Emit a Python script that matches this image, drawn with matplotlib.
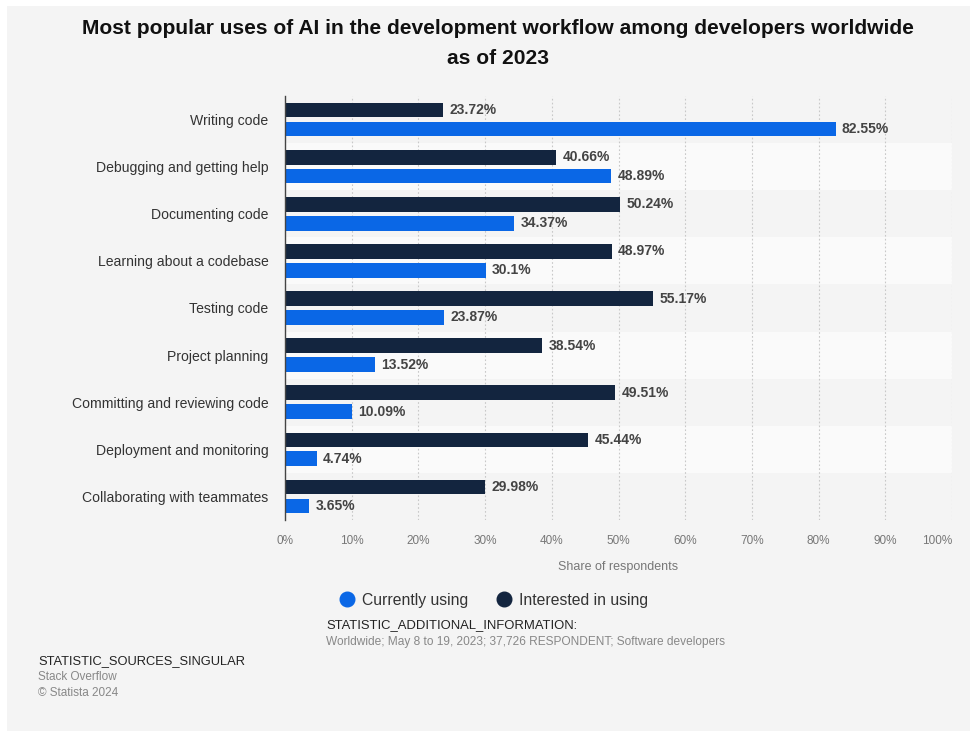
import matplotlib
matplotlib.use("Agg")
import matplotlib.pyplot as plt
from matplotlib.patches import Rectangle
from matplotlib.lines import Line2D

categories = ["Writing code", "Debugging and getting help", "Documenting code",
              "Learning about a codebase", "Testing code", "Project planning",
              "Committing and reviewing code", "Deployment and monitoring",
              "Collaborating with teammates"]
currently_using = [82.55, 48.89, 34.37, 30.1, 23.87, 13.52, 10.09, 4.74, 3.65]
interested_in_using = [23.72, 40.66, 50.24, 48.97, 55.17, 38.54, 49.51, 45.44, 29.98]
current_labels = ["82.55%", "48.89%", "34.37%", "30.1%", "23.87%", "13.52%", "10.09%", "4.74%", "3.65%"]
interested_labels = ["23.72%", "40.66%", "50.24%", "48.97%", "55.17%", "38.54%", "49.51%", "45.44%", "29.98%"]
xticks = [0, 10, 20, 30, 40, 50, 60, 70, 80, 90, 100]
xtick_labels = ["0%", "10%", "20%", "30%", "40%", "50%", "60%", "70%", "80%", "90%", "100%"]

BLUE = "#0a67e6"
NAVY = "#13253f"
BG = "#f4f4f4"

plt.rcParams['font.family'] = ['Liberation Sans', 'DejaVu Sans']

W, H = 979, 731
fig = plt.figure(figsize=(W / 100, H / 100), dpi=100)
fig.patch.set_facecolor("white")
fig.add_artist(Rectangle((7 / W, 0), (970 - 7) / W, 1 - 6 / H, transform=fig.transFigure,
                         facecolor=BG, edgecolor="none", zorder=-10))

left, right = 285 / W, 952 / W
bottom, top = 1 - 520 / H, 1 - 96 / H
ax = fig.add_axes([left, bottom, right - left, top - bottom])
ax.set_facecolor("none")

n = len(categories)
ax.set_xlim(0, 100)
ax.set_ylim(n - 0.5, -0.5)

for i in range(n):
    if i % 2 == 1:
        ax.axhspan(i - 0.5, i + 0.5, xmin=0, xmax=1, facecolor="#fafafa", edgecolor="none", zorder=0)

for x in xticks[1:]:
    ax.axvline(x, color="#c8c8c8", linestyle=(0, (1.5, 2)), linewidth=0.8, zorder=1)

bh = 0.31
off = 0.2
ys = list(range(n))
ax.barh([y - off for y in ys], interested_in_using, height=bh, color=NAVY, zorder=3)
ax.barh([y + off for y in ys], currently_using, height=bh, color=BLUE, zorder=3)

for y, v, t in zip(ys, interested_in_using, interested_labels):
    ax.annotate(t, (v, y - off), xytext=(4.5, 0), textcoords="offset points",
                ha="left", va="center", fontsize=10, fontweight="bold", color="#444444", zorder=4)
for y, v, t in zip(ys, currently_using, current_labels):
    ax.annotate(t, (v, y + off), xytext=(4.5, 0), textcoords="offset points",
                ha="left", va="center", fontsize=10, fontweight="bold", color="#444444", zorder=4)

ax.set_yticks(ys)
ax.set_yticklabels(categories, fontsize=10.1, color="#333333")
ax.tick_params(axis="y", length=0, pad=12)
ax.set_xticks(xticks)
ax.set_xticklabels(xtick_labels, fontsize=8.5, color="#777777")
ax.get_xticklabels()[-1].set_horizontalalignment("right")
ax.tick_params(axis="x", length=0, pad=11)
for s in ["top", "right", "bottom"]:
    ax.spines[s].set_visible(False)
ax.spines["left"].set_color("#444444")
ax.spines["left"].set_linewidth(1.0)
ax.spines["left"].set_zorder(5)
ax.set_xlabel("Share of respondents", fontsize=9, color="#777777", labelpad=10)

fig.text(498 / W, 1 - 28 / H, "Most popular uses of AI in the development workflow among developers worldwide",
         ha="center", va="center", fontsize=15.1, fontweight="bold", color="#111111")
fig.text(498 / W, 1 - 59 / H, "as of 2023",
         ha="center", va="center", fontsize=15.1, fontweight="bold", color="#111111")

# legend
handles = [Line2D([], [], marker="o", linestyle="none", markersize=10.5, markerfacecolor=BLUE, markeredgecolor=BLUE),
           Line2D([], [], marker="o", linestyle="none", markersize=10.5, markerfacecolor=NAVY, markeredgecolor=NAVY)]
leg = fig.legend(handles, ["Currently using", "Interested in using"], loc="center",
                 bbox_to_anchor=(493 / W, 1 - 600 / H), ncol=2, frameon=False, fontsize=11.3,
                 handletextpad=0.35, columnspacing=1.7, handlelength=1.2)
for t in leg.get_texts():
    t.set_color("#333333")

fig.text(326 / W, 1 - 625 / H, "STATISTIC_ADDITIONAL_INFORMATION:", ha="left", va="center",
         fontsize=9.4, color="#222222")
fig.text(326 / W, 1 - 642 / H, "Worldwide; May 8 to 19, 2023; 37,726 RESPONDENT; Software developers",
         ha="left", va="center", fontsize=8.6, color="#888888")
fig.text(38 / W, 1 - 661 / H, "STATISTIC_SOURCES_SINGULAR", ha="left", va="center",
         fontsize=9.3, color="#222222")
fig.text(38 / W, 1 - 677 / H, "Stack Overflow", ha="left", va="center", fontsize=8.5, color="#888888")
fig.text(38 / W, 1 - 693 / H, "© Statista 2024", ha="left", va="center", fontsize=8.5, color="#888888")

fig.savefig("out.png", dpi=100, facecolor=fig.get_facecolor())
